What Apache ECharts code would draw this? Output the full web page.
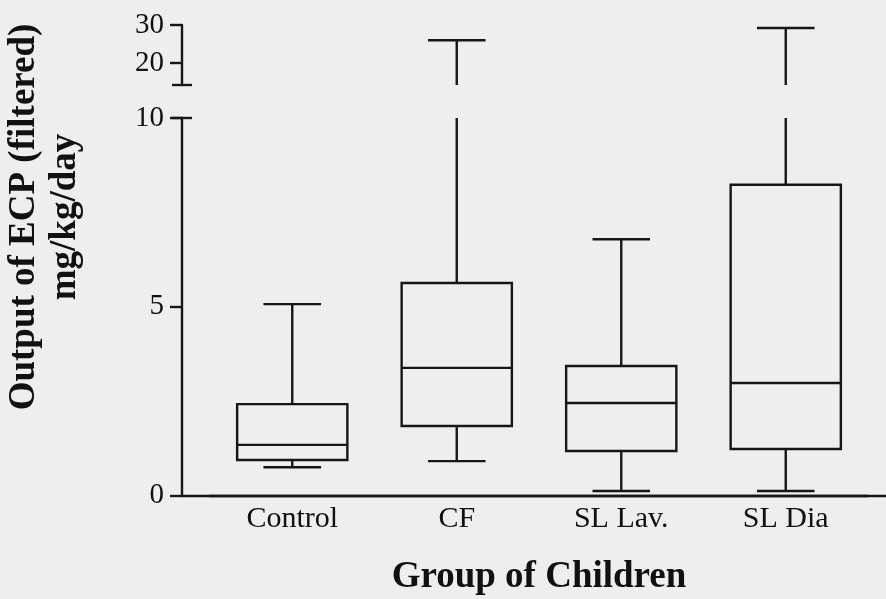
<!DOCTYPE html>
<html>
<head>
<meta charset="utf-8">
<script src="https://cdn.jsdelivr.net/npm/echarts@6/dist/echarts.min.js"></script>
<style>
  html, body { margin: 0; padding: 0; background: #eeeeee; }
  #chart { width: 886px; height: 599px; }
</style>
</head>
<body>
<div id="chart"></div>
<script>
// ---- data ----
const categories = ['Control', 'CF', 'SL Lav.', 'SL Dia'];
const whiskerLow  = [0.75, 0.91, 0.12, 0.12];
const quartile1   = [0.94, 1.84, 1.18, 1.23];
const medians     = [1.34, 3.38, 2.45, 2.98];
const quartile3   = [2.42, 5.63, 3.43, 8.23];
const whiskerHigh = [5.07, 26.0, 6.79, 29.2];
const lowerTicks = [0, 5, 10];
const upperTicks = [20, 30];

const boxData = categories.map((c, i) => [i, whiskerLow[i], quartile1[i], medians[i], quartile3[i], whiskerHigh[i]]);

const INK = '#161616';
const LW = 2.4;
const serif = '"Liberation Serif", "DejaVu Serif", serif';

function makeRender(lo, hi) {
  return function (params, api) {
    const x = api.value(0);
    const mn = api.value(1), q1 = api.value(2), md = api.value(3), q3 = api.value(4), mx = api.value(5);
    const band = api.size([1, 0])[0];
    const boxW = band * 0.67, capW = band * 0.35;
    const cx = api.coord([x, lo])[0];
    const clamp = v => Math.max(lo, Math.min(hi, v));
    const Y = v => api.coord([x, clamp(v)])[1];
    const st = { stroke: INK, lineWidth: LW, fill: null };
    const ch = [];
    const line = (x1, y1, x2, y2) => ch.push({ type: 'line', shape: { x1, y1, x2, y2 }, style: st });
    if (q3 > lo && q1 < hi) {
      const yt = Y(q3), yb = Y(q1);
      ch.push({ type: 'rect', shape: { x: cx - boxW / 2, y: yt, width: boxW, height: yb - yt }, style: { stroke: INK, lineWidth: LW, fill: 'none' } });
    }
    if (md >= lo && md <= hi) line(cx - boxW / 2, Y(md), cx + boxW / 2, Y(md));
    if (mx > lo && q3 < hi) {
      line(cx, Y(q3), cx, Y(mx));
      if (mx >= lo && mx <= hi) line(cx - capW / 2, Y(mx), cx + capW / 2, Y(mx));
    }
    if (q1 > lo && mn < hi) {
      line(cx, Y(mn), cx, Y(q1));
      if (mn >= lo && mn <= hi) line(cx - capW / 2, Y(mn), cx + capW / 2, Y(mn));
    }
    return { type: 'group', children: ch };
  };
}

const LOWER_MIN = 0, LOWER_MAX = 10, UPPER_MIN = 14.2, UPPER_MAX = 30;

const chart = echarts.init(document.getElementById('chart'), null, { renderer: 'canvas' });
chart.setOption({
  backgroundColor: '#eeeeee',
  animation: false,
  grid: [
    { left: 210, right: 18, top: 118, bottom: 103.5, outerBoundsMode: 'none', containLabel: false },
    { left: 210, right: 18, top: 25, height: 60, outerBoundsMode: 'none', containLabel: false },
    { left: 182, right: 0, top: 118, bottom: 103.5, outerBoundsMode: 'none', containLabel: false }
  ],
  xAxis: [
    {
      gridIndex: 0, type: 'category', data: categories,
      axisLine: { show: true, lineStyle: { color: INK, width: LW } },
      axisTick: { show: false },
      axisLabel: { color: '#111', fontFamily: serif, fontSize: 30, margin: 9 },
      name: 'Group of Children', nameLocation: 'middle', nameGap: 63,
      nameTextStyle: { color: '#111', fontFamily: serif, fontSize: 37, fontWeight: 'bold' }
    },
    { gridIndex: 1, type: 'category', data: categories, show: false },
    {
      gridIndex: 2, type: 'value', min: 0, max: 1,
      axisLine: { show: true, onZero: false, lineStyle: { color: INK, width: LW } },
      axisTick: { show: false }, axisLabel: { show: false }, splitLine: { show: false }
    }
  ],
  yAxis: [
    {
      gridIndex: 0, type: 'value', min: LOWER_MIN, max: LOWER_MAX, offset: 28,
      axisLine: { show: true, symbol: ['none', 'rect'], symbolSize: [20, LW], symbolOffset: [0, 0], lineStyle: { color: INK, width: LW } },
      axisTick: { show: true, length: 12, customValues: lowerTicks, lineStyle: { color: INK, width: LW } },
      axisLabel: { customValues: lowerTicks, color: '#111', fontFamily: serif, fontSize: 29, margin: 18 },
      splitLine: { show: false }
    },
    {
      gridIndex: 1, type: 'value', min: UPPER_MIN, max: UPPER_MAX, offset: 28,
      axisLine: { show: true, symbol: ['rect', 'none'], symbolSize: [20, LW], lineStyle: { color: INK, width: LW } },
      axisTick: { show: true, length: 12, customValues: upperTicks, lineStyle: { color: INK, width: LW } },
      axisLabel: { customValues: upperTicks, color: '#111', fontFamily: serif, fontSize: 29, margin: 18 },
      splitLine: { show: false }
    },
    { gridIndex: 2, type: 'value', show: false }
  ],
  graphic: [{
    type: 'text', x: 45, y: 217, rotation: Math.PI / 2,
    style: {
      text: 'Output of ECP (filtered)\nmg/kg/day',
      x: 0, y: 0, align: 'center', verticalAlign: 'middle',
      font: 'bold 37px "Liberation Serif", serif', fill: '#111', lineHeight: 41
    }
  }],
  series: [
    { type: 'custom', xAxisIndex: 0, yAxisIndex: 0, data: boxData, renderItem: makeRender(LOWER_MIN, LOWER_MAX), encode: { x: 0, y: [1, 2, 3, 4, 5] }, silent: true },
    { type: 'custom', xAxisIndex: 1, yAxisIndex: 1, data: boxData, renderItem: makeRender(UPPER_MIN, UPPER_MAX), encode: { x: 0, y: [1, 2, 3, 4, 5] }, silent: true }
  ]
});
</script>
</body>
</html>
